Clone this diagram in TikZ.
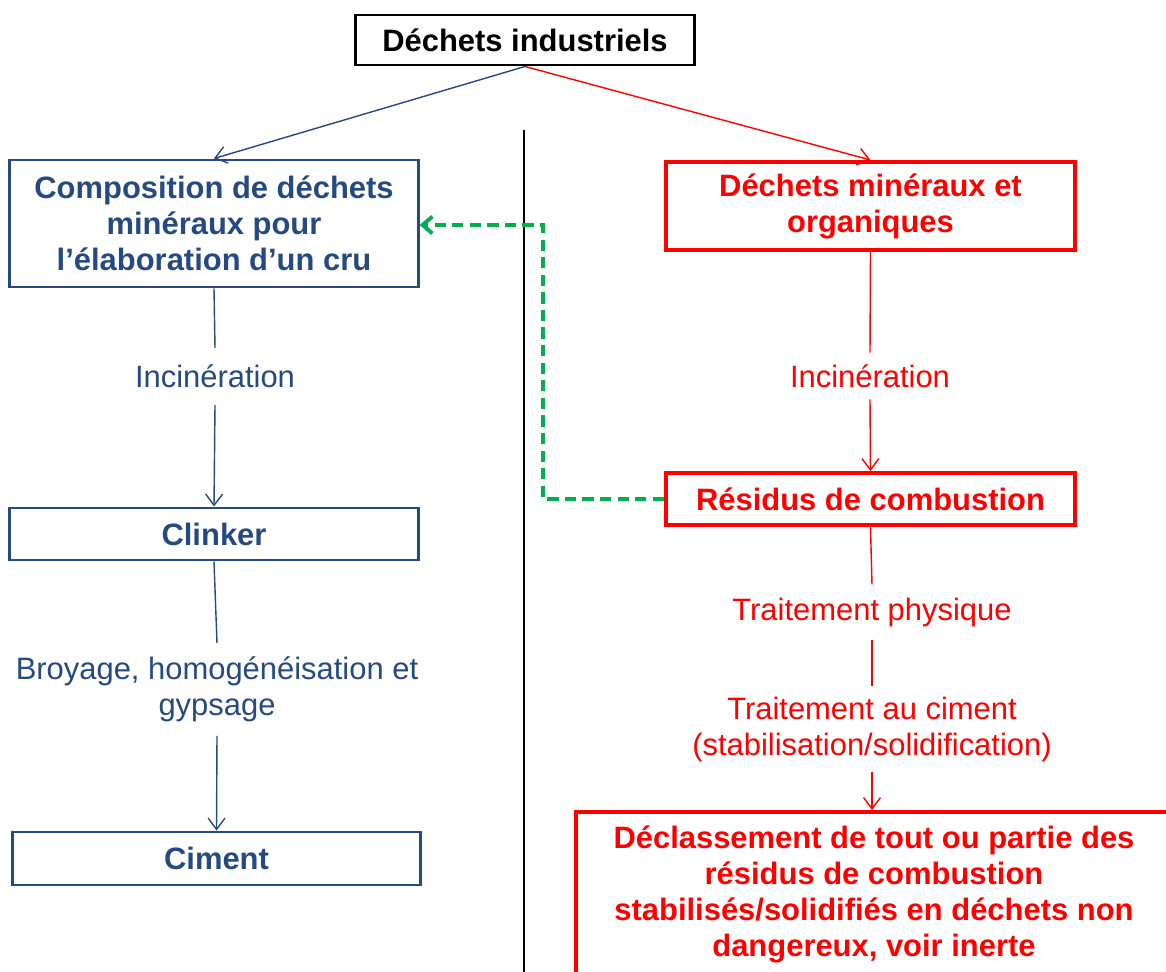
\documentclass[tikz,border=0pt]{standalone}
\usepackage{fontspec}
\setmainfont{Liberation Sans}
\usetikzlibrary{arrows.meta}
\definecolor{bleuF}{RGB}{37,74,128}
\definecolor{rougeF}{RGB}{255,0,0}
\definecolor{vertF}{RGB}{0,176,80}

\begin{document}
\begin{tikzpicture}[x=0.025cm, y=-0.025cm,
        every node/.style={font=\fontsize{22}{25.6}\selectfont, align=center},
        titre/.style={rectangle, draw=black, line width=2.1pt, font=\fontsize{22}{25.6}\selectfont\bfseries, minimum width=8.45cm, minimum height=1.25cm},
        bleu/.style={rectangle, draw=bleuF, text=bleuF, line width=2.1pt, font=\fontsize{22}{25.6}\selectfont\bfseries, minimum width=10.2cm},
        rouge/.style={rectangle, draw=rougeF, text=rougeF, line width=2.8pt, font=\fontsize{22}{25.6}\selectfont\bfseries, minimum width=10.225cm},
        etape/.style={inner xsep=2pt},
        lienB/.style={draw=bleuF, line width=1pt, -{Straight Barb[length=8pt,width=12pt]}},
        lienR/.style={draw=rougeF, line width=1pt, -{Straight Barb[length=8pt,width=12pt]}},
        retour/.style={draw=vertF, line width=2.8pt, dash pattern=on 8pt off 4.5pt, -{Straight Barb[length=7pt,width=12pt]}}
    ]
        \useasboundingbox (0,0) rectangle (1166,972);

        % Source
        \node[titre] (dechets) at (525,40) {Déchets industriels};

        % Colonne de gauche : cimenterie
        \node[bleu, minimum height=3.175cm] (compo) at (214,223.5) {Composition de déchets\\minéraux pour\\l’élaboration d’un cru};
        \node[etape, text=bleuF, inner ysep=12pt] (incinB) at (215,376.5) {Incinération};
        \node[bleu, minimum height=1.3cm] (clinker) at (214,534) {Clinker};
        \node[etape, text=bleuF, inner ysep=9.6pt] (broyage) at (217,689.5) {Broyage, homogénéisation et\\gypsage};
        \node[bleu, minimum width=10.175cm, minimum height=1.325cm] (ciment) at (216.5,858.5) {Ciment};

        % Colonne de droite : incinerateur
        \node[rouge, minimum height=2.2cm] (mineraux) at (870.5,206) {Déchets minéraux et\\organiques};
        \node[etape, text=rougeF, inner ysep=8.2pt] (incinR) at (870,376) {Incinération};
        \node[rouge, minimum height=1.3cm] (residus) at (870.5,499) {Résidus de combustion};
        \node[etape, text=rougeF, inner ysep=9.2pt] (physique) at (872,612) {Traitement physique};
        \node[etape, text=rougeF, inner ysep=7.5pt] (traitciment) at (872,729) {Traitement au ciment\\(stabilisation/solidification)};
        \node[rouge, minimum width=14.9cm, minimum height=4.1cm] (declass) at (874,894) {Déclassement de tout ou partie des\\résidus de combustion\\stabilisés/solidifiés en déchets non\\dangereux, voir inerte};

        % Separateur
        \coordinate (sepH) at (524,130);
        \coordinate (sepB) at (524,972);
        \draw[line width=1.2pt] (sepH) -- (sepB);

        % Liaisons
        \draw[lienB] (dechets.south) -- (compo.north);
        \draw[lienR] (dechets.south) -- (mineraux.north);
        \draw[lienB, -] (compo.south) -- (incinB.north);
        \draw[lienB] (incinB.south) -- (clinker.north);
        \draw[lienB, -] (clinker.south) -- (broyage.north);
        \draw[lienB] (broyage.south) -- (ciment.north);
        \draw[lienR, -] (mineraux.south) -- (incinR.north);
        \draw[lienR] (incinR.south) -- (residus.north);
        \draw[lienR, -] (residus.south) -- (physique.north);
        \draw[lienR, -] (physique.south) -- (traitciment.north);
        \draw[lienR] (traitciment.south) -- (traitciment.south |- declass.north);

        % Retour des residus vers le cru
        \coordinate (coude) at (543,225);
        \draw[retour] (residus.west) -| (coude) -- (compo.east |- coude);
    \end{tikzpicture}
\end{document}
